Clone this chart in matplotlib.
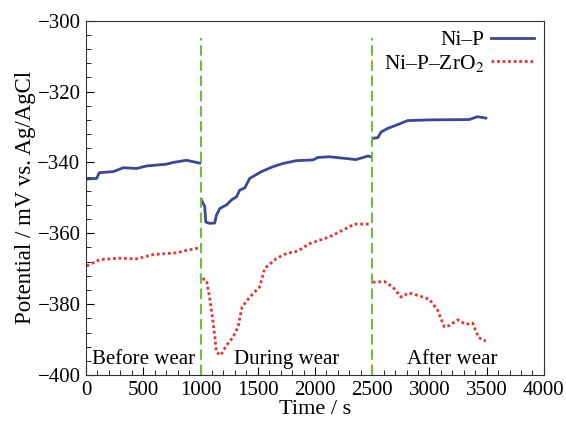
import numpy as np
import matplotlib.pyplot as plt
from matplotlib.ticker import MultipleLocator

plt.rcParams['font.family'] = ['Liberation Serif', 'DejaVu Serif']
plt.rcParams['mathtext.fontset'] = 'stix'

# Ni-P open circuit potential
nip_t = [6, 93, 116, 238, 325, 442, 529, 703, 762, 878, 994,
         1009, 1037, 1046, 1081, 1124, 1139, 1168, 1227, 1270, 1314, 1343, 1386,
         1430, 1532, 1633, 1720, 1837, 1982, 2025, 2127, 2360, 2461, 2491,
         2505, 2549, 2578, 2636, 2709, 2810, 3000, 3348, 3420, 3493]
nip_v = [-344.7, -344.5, -342.9, -342.6, -341.5, -341.7, -341.0, -340.5, -340.0, -339.4, -340.2,
         -350.6, -352.5, -356.8, -357.2, -357.1, -354.9, -353.0, -352.0, -350.6, -349.7, -347.8, -347.2,
         -344.5, -342.6, -341.2, -340.3, -339.5, -339.3, -338.6, -338.4, -339.2, -338.2, -338.4,
         -333.2, -333.0, -331.4, -330.4, -329.5, -328.2, -328.0, -327.9, -327.1, -327.5]

# Ni-P-ZrO2 open circuit potential
zr_t = [6, 122, 296, 442, 587, 790, 878, 994,
        1017, 1052, 1081, 1104, 1124, 1139, 1177, 1227, 1284, 1328, 1363, 1430, 1517,
        1561, 1663, 1750, 1851, 1953, 2127, 2243, 2345, 2491,
        2505, 2607, 2679, 2752, 2819, 2897, 2999, 3072, 3130, 3174, 3247, 3319, 3377, 3429, 3493]
zr_v = [-369.2, -367.4, -367.0, -367.2, -366.0, -365.5, -364.8, -364.1,
        -372.8, -373.2, -378.4, -383.6, -388.8, -393.5, -394.4, -391.6, -389.3, -386.4, -380.8, -378.0, -375.1,
        -369.9, -367.1, -365.7, -365.0, -362.9, -361.0, -359.1, -357.4, -357.4,
        -373.8, -373.6, -375.1, -378.0, -376.8, -377.5, -378.6, -381.7, -386.4, -386.0, -384.4, -385.7, -385.3, -389.4, -390.4]

# stage boundaries and labels
breaks = [1000, 2500]
stage_x = [500, 1750, 3200]
stage_names = ['Before wear', 'During wear', 'After wear']


def split(t, v):
    # split into separate segments at the stage boundaries
    t = np.array(t)
    v = np.array(v)
    edges = [0] + breaks + [5000]
    return [(t[(t >= a) & (t < b)], v[(t >= a) & (t < b)]) for a, b in zip(edges[:-1], edges[1:])]


fig, ax = plt.subplots(figsize=(5.66, 4.21), dpi=100)
fig.subplots_adjust(left=0.152, right=0.961, top=0.951, bottom=0.109)

for i, (t, v) in enumerate(split(nip_t, nip_v)):
    ax.plot(t, v, color='#3a479a', lw=2, label='Ni–P' if i == 0 else None)
for i, (t, v) in enumerate(split(zr_t, zr_v)):
    ax.plot(t, v, color='#f0302c', lw=2, ls=(0, (1, 1)),
            label='Ni–P–ZrO$_2$' if i == 0 else None)

for b in breaks:
    ax.plot([b, b], [-400, -305], color='#6cbf3a', lw=1.5, ls=(0, (5, 2.3)))

for x, name in zip(stage_x, stage_names):
    ax.text(x, -395.5, name, ha='center', va='center', fontsize=15)

ax.set_xlim(0, 4000)
ax.set_ylim(-400, -300)
ax.xaxis.set_major_locator(MultipleLocator(500))
ax.xaxis.set_minor_locator(MultipleLocator(100))
ax.yaxis.set_major_locator(MultipleLocator(20))
ax.yaxis.set_minor_locator(MultipleLocator(4))
ax.tick_params(which='both', direction='in', labelsize=15, top=False, right=False)
ax.tick_params(which='major', length=6, pad=4)
ax.tick_params(which='minor', length=3.5)
for s in ax.spines.values():
    s.set_color('#333333')

ax.set_xlabel('Time / s', fontsize=16, labelpad=0)
ax.set_ylabel('Potential / mV vs. Ag/AgCl', fontsize=16.5, labelpad=1)

ax.legend(loc='upper right', frameon=False, markerfirst=False, fontsize=15.5,
          handlelength=2.0, handletextpad=0.3, borderaxespad=0.15, labelspacing=0.1,
          borderpad=0.3)

fig.savefig('out.png', dpi=100)
